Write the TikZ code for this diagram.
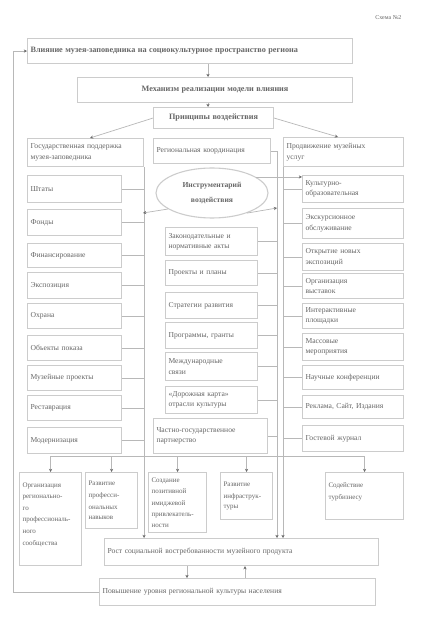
\documentclass[tikz,border=0pt]{standalone}
\usepackage{fontspec}
\setmainfont{Liberation Serif}
\usetikzlibrary{shapes.geometric,arrows.meta}
\definecolor{boxgray}{gray}{0.80}
\definecolor{lngray}{gray}{0.72}
\definecolor{txtgray}{gray}{0.40}
\definecolor{tipgray}{gray}{0.42}
\newcommand\fsA{\fontsize{7.6}{10.5}\selectfont}
\newcommand\fsB{\fontsize{8.2}{10.5}\selectfont\bfseries}
\newcommand\fsC{\fontsize{7}{11.6}\selectfont}
\newcommand\Bx[7]{%
  \pgfmathsetmacro\tw{#4-6}%
  \node[box, minimum width=#4pt, minimum height=#5pt, text width=\tw pt, align=#6, anchor=north west] (#1) at (#2,#3) {#7};}
\tikzset{
  box/.style={draw=boxgray, line width=1.1pt, fill=white, font=\fsA, text=txtgray, inner sep=3pt},
  conn/.style={draw=lngray, line width=0.7pt},
  arr/.style={conn, -{Stealth[length=3.2pt,width=3.2pt,color=tipgray]}},
}
\begin{document}
\begin{tikzpicture}[x=1pt,y=-1pt]
\useasboundingbox[fill=white] (0,0) rectangle (420,620);
\node[font=\fontsize{6}{7}\selectfont, text=txtgray, anchor=east] (lbl) at (405,18) {Схема №2};
% top
\Bx{b1}{27}{38}{325}{25}{left}{\fsB Влияние музея-заповедника на социокультурное пространство региона}
\Bx{b2}{77}{77}{275}{25}{center}{\fsB Механизм реализации модели влияния}
\Bx{b3}{153}{107}{120}{21}{center}{\fsB Принципы воздействия}
% headers
\Bx{hL}{27}{138}{116}{28}{left}{Государственная поддержка\\музея-заповедника}
\Bx{hM}{153}{138}{117}{25}{left}{Региональная координация}
\Bx{hR}{283}{137}{120}{29}{left}{Продвижение музейных\\услуг}
% ellipse
\node[ellipse, draw=boxgray, line width=1.1pt, fill=white, font=\fsA\bfseries, text=txtgray, minimum width=112pt, minimum height=50pt, align=center, inner sep=0pt] (el) at (212,193) {Инструментарий\\[5pt]воздействия};
% left column
\Bx{l1}{27}{175}{94}{27}{left}{Штаты}
\Bx{l2}{27}{209}{94}{26}{left}{Фонды}
\Bx{l3}{27}{243}{94}{24}{left}{Финансирование}
\Bx{l4}{27}{272}{94}{26}{left}{Экспозиция}
\Bx{l5}{27}{303}{94}{25}{left}{Охрана}
\Bx{l6}{27}{335}{94}{25}{left}{Объекты показа}
\Bx{l7}{27}{365}{94}{25}{left}{Музейные проекты}
\Bx{l8}{27}{395}{94}{25}{left}{Реставрация}
\Bx{l9}{27}{427}{94}{26}{left}{Модернизация}
% middle column
\Bx{m1}{165}{227}{92}{28}{left}{Законодательные и\\нормативные акты}
\Bx{m2}{165}{260}{92}{25}{left}{Проекты и планы}
\Bx{m3}{165}{292}{92}{26}{left}{Стратегии развития}
\Bx{m4}{165}{322}{92}{26}{left}{Программы, гранты}
\Bx{m5}{165}{352}{92}{28}{left}{Международные\\связи}
\Bx{m6}{165}{386}{92}{27}{left}{«Дорожная карта»\\отрасли культуры}
\Bx{m7}{153}{418}{114}{35}{left}{Частно-государственное\\партнерство}
% right column
\Bx{r1}{302}{175}{101}{27}{left}{Культурно-\\образовательная}
\Bx{r2}{302}{208}{101}{30}{left}{Экскурсионное\\обслуживание}
\Bx{r3}{302}{243}{101}{27}{left}{Открытие новых\\экспозиций}
\Bx{r4}{302}{273}{101}{25}{left}{Организация\\выставок}
\Bx{r5}{302}{303}{101}{25}{left}{Интерактивные\\площадки}
\Bx{r6}{302}{333}{101}{27}{left}{Массовые\\мероприятия}
\Bx{r7}{302}{365}{101}{24}{left}{Научные конференции}
\Bx{r8}{302}{395}{101}{23}{left}{Реклама, Сайт, Издания}
\Bx{r9}{302}{425}{101}{26}{left}{Гостевой журнал}
% bottom row
\Bx{o1}{19}{472}{62}{93}{left}{\fsC Организация\\регионально-\\го\\профессиональ-\\ного\\сообщества\\\mbox{}}
\Bx{o2}{85}{472}{52}{56}{left}{\fsC Развитие\\професси-\\ональных\\навыков}
\Bx{o3}{148}{472}{58}{60}{left}{\fsC Создание\\позитивной\\имиджевой\\привлекатель-\\ности}
\Bx{o4}{220}{472}{52}{47}{left}{\fsC Развитие\\инфраструк-\\туры}
\Bx{o5}{325}{472}{78}{47}{left}{\fsC Содействие\\турбизнесу\\\mbox{}}
\Bx{rost}{104}{538}{274}{27}{left}{Рост социальной востребованности музейного продукта}
\Bx{pov}{99}{578}{276}{27}{left}{Повышение уровня региональной культуры населения}
% helper coordinates
\coordinate (cx) at (208,0);
\coordinate (hLa) at (90,0);
\coordinate (hRa) at (338,0);
\coordinate (mbx) at (277,0);
\coordinate (hl) at (0,456);
\coordinate (lp) at (13,0);
\coordinate (ra) at (187,0);
\coordinate (rb) at (245,0);
\coordinate (eL) at (143,213);
\coordinate (eM) at (277,208);
% top connectors
\draw[arr] (cx |- b1.south) -- (cx |- b2.north);
\draw[arr] (cx |- b2.south) -- (cx |- b3.north);
\draw[arr] (b3.west) -- (hLa |- hL.north);
\draw[arr] (b3.east) -- (hRa |- hR.north);
% buses
\draw[arr] (hL.south east) -- (hL.south east |- rost.north);
\draw[arr] (hM.east) -- (hM.east -| mbx) -- (mbx |- rost.north);
\draw[arr] (hR.south west) -- (hR.south west |- rost.north);
\foreach \n in {l1,l2,l3,l4,l5,l6,l7,l8,l9} \draw[conn] (\n.east) -- (\n.east -| hL.east);
\foreach \n in {m1,m2,m3,m4,m5,m6,m7} \draw[conn] (\n.east) -- (\n.east -| mbx);
\foreach \n in {r1,r2,r3,r4,r5,r6,r7,r8,r9} \draw[conn] (\n.west -| hR.west) -- (\n.west);
% ellipse arrows
\draw[arr] (el.200) -- (eL);
\draw[arr] (el.-30) -- (eM);
\draw[arr] (el.20) -- (el.20 -| r1.west);
% bottom distribution
\draw[conn] (o1.north |- hl) -- (o5.north |- hl);
\foreach \n in {o1,o2,o3,o4,o5} \draw[arr] (\n.north |- hl) -- (\n.north);
% result
\draw[arr] (ra |- rost.south) -- (ra |- pov.north);
\draw[arr] (rb |- pov.north) -- (rb |- rost.south);
\draw[arr] (pov.west) -- (pov.west -| lp) -- (lp |- b1.west) -- (b1.west);
\end{tikzpicture}
\end{document}
